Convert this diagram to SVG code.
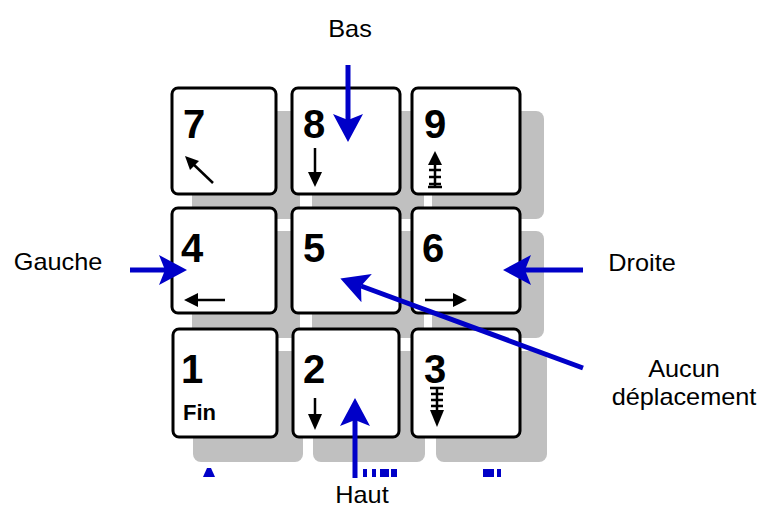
<svg xmlns="http://www.w3.org/2000/svg" width="764" height="507" viewBox="0 0 764 507">
  <style>
    .label { font-family: "Liberation Sans", Arial, sans-serif; font-size: 23px; fill: #000; text-anchor: middle; }
    .digit { font-family: "Liberation Sans", Arial, sans-serif; font-size: 40px; font-weight: bold; fill: #000; }
    .small { font-family: "Liberation Sans", Arial, sans-serif; font-size: 22px; font-weight: bold; fill: #000; }
    .key { fill: #fff; stroke: #000; stroke-width: 3; }
    .shadow { fill: #c0c0c0; }
    .glyph { stroke: #000; stroke-width: 2.5; fill: none; }
    .head { fill: #000; }
    .conn { stroke: #0000c8; stroke-width: 5; fill: none; marker-end: url(#blueArrow); }
  </style>
  <defs>
    <marker id="blueArrow" markerUnits="userSpaceOnUse" markerWidth="30" markerHeight="32" viewBox="0 0 30 32" refX="6" refY="16" orient="auto">
      <path d="M0,1 L28,16 L0,31 L6,16 Z" fill="#0000c8"/>
    </marker>
  </defs>

  <rect width="764" height="507" fill="#fff"/>

  <!-- key shadows -->
  <g id="shadows">
    <rect class="shadow" x="192" y="111" width="108" height="108" rx="8"/>
    <rect class="shadow" x="312" y="111" width="112" height="108" rx="8"/>
    <rect class="shadow" x="432" y="111" width="112" height="108" rx="8"/>
    <rect class="shadow" x="192" y="231" width="108" height="107" rx="8"/>
    <rect class="shadow" x="312" y="231" width="112" height="107" rx="8"/>
    <rect class="shadow" x="432" y="231" width="112" height="107" rx="8"/>
    <rect class="shadow" x="193" y="351" width="110" height="111" rx="8"/>
    <rect class="shadow" x="313" y="351" width="112" height="111" rx="8"/>
    <rect class="shadow" x="436" y="351" width="111" height="111" rx="8"/>
  </g>

  <g id="key7">
    <rect class="key" x="172" y="88" width="104" height="106" rx="6"/>
    <text class="digit" x="183" y="138">7</text>
    <line class="glyph" x1="213" y1="183" x2="191" y2="162"/>
    <path class="head" d="M185,156 L199,161 L190,170 Z"/>
  </g>
  <g id="key8">
    <rect class="key" x="292" y="88" width="108" height="106" rx="6"/>
    <text class="digit" x="303" y="138">8</text>
    <line class="glyph" x1="315" y1="148" x2="315" y2="176"/>
    <path class="head" d="M308,172 L322,172 L315,187 Z"/>
  </g>
  <g id="key9">
    <rect class="key" x="412" y="88" width="108" height="106" rx="6"/>
    <text class="digit" x="424" y="138">9</text>
    <line class="glyph" x1="435" y1="160" x2="435" y2="187"/>
    <path class="head" d="M435,151 L442,165 L428,165 Z"/>
    <path class="glyph" d="M429,170 H441 M429,177 H441 M429,184 H441 M428,187 H442"/>
  </g>

  <g id="key4">
    <rect class="key" x="172" y="208" width="104" height="105" rx="6"/>
    <text class="digit" x="181" y="262">4</text>
    <line class="glyph" x1="225" y1="300" x2="194" y2="300"/>
    <path class="head" d="M184,300 L198,293 L198,307 Z"/>
  </g>
  <g id="key5">
    <rect class="key" x="292" y="208" width="108" height="105" rx="6"/>
    <text class="digit" x="303" y="262">5</text>
  </g>
  <g id="key6">
    <rect class="key" x="412" y="208" width="108" height="105" rx="6"/>
    <text class="digit" x="422" y="262">6</text>
    <line class="glyph" x1="425" y1="300" x2="456" y2="300"/>
    <path class="head" d="M467,300 L453,293 L453,307 Z"/>
  </g>

  <g id="key1">
    <rect class="key" x="173" y="329" width="104" height="108" rx="6"/>
    <text class="digit" x="181" y="383">1</text>
    <text class="small" x="183" y="420">Fin</text>
  </g>
  <g id="key2">
    <rect class="key" x="293" y="329" width="106" height="108" rx="6"/>
    <text class="digit" x="303" y="383">2</text>
    <line class="glyph" x1="315" y1="398" x2="315" y2="418"/>
    <path class="head" d="M308,414 L322,414 L315,430 Z"/>
  </g>
  <g id="key3">
    <rect class="key" x="412" y="329" width="108" height="108" rx="6"/>
    <text class="digit" x="424" y="383">3</text>
    <line class="glyph" x1="437" y1="388" x2="437" y2="412"/>
    <path class="glyph" d="M430,388 H444 M431,394 H443 M431,400 H443 M431,406 H443"/>
    <path class="head" d="M430,410 L444,410 L437,427 Z"/>
  </g>

  <!-- caption fragments cut off under the keypad -->
  <g id="caption-edge" fill="#0000c8">
    <path d="M203,477 L207,468 L211,468 L215,477 Z"/>
    <rect x="363" y="469" width="4" height="8"/>
    <rect x="372" y="469" width="4" height="8"/>
    <rect x="380" y="469" width="9" height="8"/>
    <rect x="391" y="469" width="6" height="8"/>
    <rect x="483" y="469" width="11" height="8"/>
    <rect x="497" y="469" width="4" height="8"/>
  </g>

  <g id="connectors">
    <line class="conn" x1="348" y1="65" x2="348" y2="120"/>
    <line class="conn" x1="130" y1="270" x2="165" y2="270"/>
    <line class="conn" x1="583" y1="270" x2="525" y2="270"/>
    <line class="conn" x1="583" y1="368" x2="361" y2="286"/>
    <line class="conn" x1="355" y1="478" x2="355" y2="420"/>
  </g>

  <g id="labels">
    <text class="label" transform="translate(350,37) scale(1.1,1)">Bas</text>
    <text class="label" transform="translate(58,270) scale(1.1,1)">Gauche</text>
    <text class="label" transform="translate(642,271) scale(1.1,1)">Droite</text>
    <text class="label" transform="translate(684,377) scale(1.1,1)">Aucun</text>
    <text class="label" transform="translate(684,405) scale(1.1,1)">déplacement</text>
    <text class="label" transform="translate(362,503) scale(1.1,1)">Haut</text>
  </g>
</svg>
